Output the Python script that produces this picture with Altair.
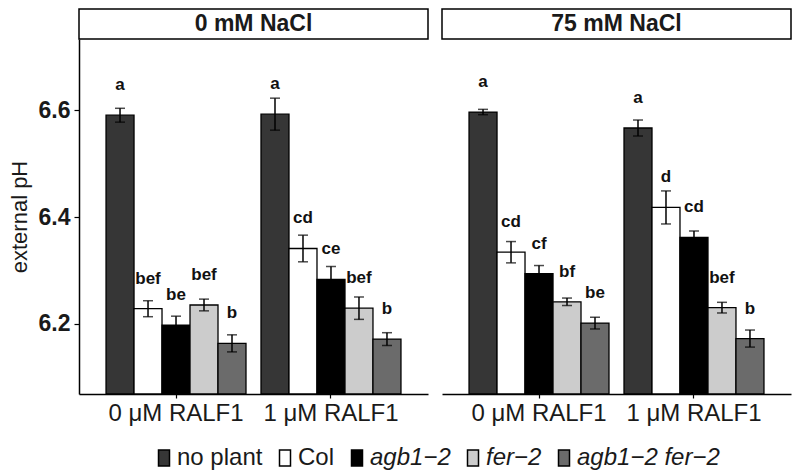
import altair as alt
import pandas as pd

genotypes = ["no plant", "Col", "agb1−2", "fer−2", "agb1−2 fer−2"]
colors = ["#363636", "#ffffff", "#000000", "#cccccc", "#6b6b6b"]
treatments = ["0 μM RALF1", "1 μM RALF1"]
conditions = ["0 mM NaCl", "75 mM NaCl"]

# external pH means, standard errors and significance letters (genotype order)
mean_0mM_0uM = [6.591, 6.228, 6.197, 6.235, 6.163]
se_0mM_0uM = [0.013, 0.015, 0.017, 0.011, 0.016]
lab_0mM_0uM = ["a", "bef", "be", "bef", "b"]

mean_0mM_1uM = [6.593, 6.341, 6.283, 6.229, 6.171]
se_0mM_1uM = [0.030, 0.025, 0.024, 0.021, 0.012]
lab_0mM_1uM = ["a", "cd", "ce", "bef", "b"]

mean_75mM_0uM = [6.597, 6.334, 6.294, 6.241, 6.201]
se_75mM_0uM = [0.005, 0.020, 0.015, 0.007, 0.011]
lab_75mM_0uM = ["a", "cd", "cf", "bf", "be"]

mean_75mM_1uM = [6.567, 6.418, 6.362, 6.230, 6.172]
se_75mM_1uM = [0.015, 0.031, 0.012, 0.010, 0.016]
lab_75mM_1uM = ["a", "d", "cd", "bef", "b"]

y_ticks = [6.2, 6.4, 6.6]
y_domain = [6.068, 6.734]

series = [
    (conditions[0], treatments[0], mean_0mM_0uM, se_0mM_0uM, lab_0mM_0uM),
    (conditions[0], treatments[1], mean_0mM_1uM, se_0mM_1uM, lab_0mM_1uM),
    (conditions[1], treatments[0], mean_75mM_0uM, se_75mM_0uM, lab_75mM_0uM),
    (conditions[1], treatments[1], mean_75mM_1uM, se_75mM_1uM, lab_75mM_1uM),
]
rows = []
for cond, trt, means, ses, labs in series:
    for g, m, s, l in zip(genotypes, means, ses, labs):
        rows.append({"condition": cond, "treatment": trt, "genotype": g,
                     "mean": m, "lo": m - s, "hi": m + s, "letter": l})
df = pd.DataFrame(rows)

FONT = "Liberation Sans"
W = 349
H = 355
STRIP = 30

italic_expr = "datum.value == 'no plant' || datum.value == 'Col' ? 'normal' : 'italic'"


def panel(cond, show_axis):
    d = df[df["condition"] == cond]
    base = alt.Chart(d)
    ysc = alt.Scale(domain=y_domain, nice=False, zero=False)
    x = alt.X("treatment:N", sort=treatments,
              scale=alt.Scale(paddingInner=0, paddingOuter=0.126),
              axis=alt.Axis(title=None, labelAngle=0, labelFontSize=24, labelFont=FONT,
                            labelColor="#1a1a1a", tickSize=4, tickWidth=1.2, tickColor="black",
                            domainColor="black", domainWidth=1.5, labelPadding=3))
    xo = alt.XOffset("genotype:N", sort=genotypes,
                     scale=alt.Scale(paddingInner=0, paddingOuter=0.268))
    if show_axis:
        yax = alt.Axis(title="external pH", values=y_ticks, format=".1f",
                       labelFontSize=23, labelFontWeight="bold", labelFont=FONT, labelColor="#1a1a1a",
                       titleFontSize=22, titleFontWeight="normal", titleFont=FONT, titleColor="#1a1a1a",
                       titlePadding=7, tickSize=5, tickWidth=1.2, tickColor="black",
                       domainColor="black", domainWidth=1.5, labelPadding=4)
    else:
        yax = None
    y = alt.Y("mean:Q", scale=ysc, axis=yax)

    bars = base.mark_bar(stroke="black", strokeWidth=1.3).encode(
        x=x, xOffset=xo, y=y, y2=alt.datum(y_domain[0]),
        fill=alt.Fill("genotype:N", sort=genotypes,
                      scale=alt.Scale(domain=genotypes, range=colors),
                      legend=alt.Legend(
                          title=None, orient="none", direction="horizontal", columns=5,
                          legendX=73, legendY=407,
                          symbolType="M-0.6875,-1L0.6875,-1L0.6875,1L-0.6875,1Z",
                          symbolSize=256, symbolStrokeColor="black", symbolStrokeWidth=1.5,
                          symbolOpacity=1, labelFontSize=24, labelFont=FONT, labelColor="#1a1a1a",
                          labelOffset=1, columnPadding=10,
                          labelFontStyle=alt.ExprRef(italic_expr))))
    rule = base.mark_rule(color="black", strokeWidth=1.5).encode(
        x=x, xOffset=xo, y=alt.Y("lo:Q", scale=ysc), y2="hi:Q")
    cap_lo = base.mark_tick(color="black", size=10, thickness=1.5, orient="horizontal").encode(
        x=x, xOffset=xo, y=alt.Y("lo:Q", scale=ysc))
    cap_hi = base.mark_tick(color="black", size=10, thickness=1.5, orient="horizontal").encode(
        x=x, xOffset=xo, y=alt.Y("hi:Q", scale=ysc))
    letters = base.mark_text(fontSize=17, fontWeight="bold", font=FONT, color="#111111",
                             baseline="alphabetic", dy=-25).encode(
        x=x, xOffset=xo, y=alt.Y("mean:Q", scale=ysc), text="letter:N")

    sdf = pd.DataFrame({"label": [cond]})
    strip_box = alt.Chart(sdf).mark_rect(fill="white", stroke="black", strokeWidth=1.5).encode(
        x=alt.value(0), x2=alt.value(W), y=alt.value(-STRIP), y2=alt.value(0))
    strip_text = alt.Chart(sdf).mark_text(fontSize=23, fontWeight="bold", font=FONT,
                                          color="#1a1a1a", baseline="middle").encode(
        x=alt.value(W / 2), y=alt.value(-STRIP / 2), text="label:N")

    return alt.layer(strip_box, strip_text, bars, rule, cap_lo, cap_hi, letters).properties(
        width=W, height=H)


chart = alt.hconcat(panel(conditions[0], True), panel(conditions[1], False), spacing=12).resolve_scale(
    fill="shared").resolve_legend(fill="shared").properties(
    padding={"left": 0, "top": 0, "right": 0, "bottom": 0}, background="white"
).configure_view(stroke=None).configure_axis(grid=False)

chart.save("out.html", embed_options={"renderer": "svg", "actions": False})
